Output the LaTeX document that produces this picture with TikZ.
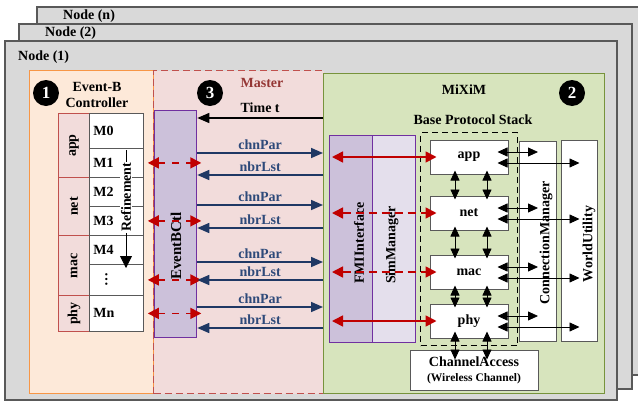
\documentclass[tikz,border=0pt]{standalone}
\usepackage{fontspec}
\setmainfont{Liberation Serif}
\usepackage{tikz}
\usetikzlibrary{ positioning, arrows.meta, calc }
\usepackage{xcolor}
\definecolor{framegray}{HTML}{D9D9D9}
\definecolor{frameline}{HTML}{595959}
\definecolor{ctrlfill}{HTML}{FDE9D9}
\definecolor{ctrlline}{HTML}{F79646}
\definecolor{masterfill}{HTML}{F2DCDB}
\definecolor{masterline}{HTML}{C0504D}
\definecolor{mastertext}{HTML}{953735}
\definecolor{miximfill}{HTML}{D7E4BD}
\definecolor{miximline}{HTML}{77933C}
\definecolor{purpleline}{HTML}{7030A0}
\definecolor{fmifill}{HTML}{CCC1DA}
\definecolor{simfill}{HTML}{E4DFEC}
\definecolor{navy}{HTML}{1F3864}
\definecolor{navytext}{HTML}{2E4A7A}
\definecolor{redarrow}{HTML}{C00000}
\newcommand{\lblfont}{\fontsize{14}{16}\selectfont\bfseries}
\newcommand{\smlfont}{\fontsize{11.5}{13}\selectfont\bfseries}

\begin{document}
\begin{tikzpicture}[
  x=1pt, y=-1pt,
  every node/.style={font=\lblfont, inner sep=0pt},
  frame/.style={draw=frameline, fill=framegray, line width=1.3pt},
  region/.style={anchor=north west, line width=1.3pt},
  badge/.style={circle, fill=black, text=white, minimum size=26pt,
                font=\fontsize{17}{17}\selectfont\bfseries},
  lyrcell/.style={draw=masterline, fill=masterfill, line width=1.2pt,
                  minimum width=31pt, anchor=north west},
  mcell/.style={draw=frameline, fill=white, line width=0.8pt, minimum width=54pt,
                text width=46pt, align=left, anchor=north west},
  purplebox/.style={draw=purpleline, line width=1.3pt, anchor=north west},
  whitebox/.style={draw=frameline, fill=white, line width=1pt, anchor=north west},
  layer/.style={draw=frameline, fill=white, line width=1pt,
                minimum width=78pt, minimum height=34pt},
  blk/.style={black, line width=0.8pt,
              {Triangle[length=10pt,width=9pt]}-{Triangle[length=10pt,width=9pt]}},
  redarr/.style={redarrow, line width=1.6pt,
                 {Triangle[length=11pt,width=11pt]}-{Triangle[length=11pt,width=11pt]}},
  chnarr/.style={navy, line width=1.6pt, -{Triangle[length=12pt,width=10pt]}},
  timearr/.style={black, line width=1.3pt, -{Triangle[length=12pt,width=10pt]}},
  refarr/.style={black, line width=0.8pt, -{Triangle[length=12pt,width=12pt]}},
]
  \useasboundingbox (0,0) rectangle (638,402);
  % stacked node frames
  \draw[frame] (37,7) rectangle (642,375);
  \node[anchor=west] (noden) at (63,16) {Node (n)};
  \draw[frame] (19,24) rectangle (632,389);
  \node[anchor=west] (node2) at (45,33) {Node (2)};
  \draw[frame] (5,41) rectangle (617,400);
  \node[anchor=west] (node1) at (18,57) {Node (1)};

  % three parts
  \node[region, draw=ctrlline, fill=ctrlfill, minimum width=124pt, minimum height=323pt] (ctrl) at (29,70) {};
  \node[region, draw=masterline, fill=masterfill, dash pattern=on 7pt off 4pt,
        minimum width=170pt, minimum height=323pt] (master) at (153,70) {};
  \node[region, draw=miximline, fill=miximfill, minimum width=281pt, minimum height=320pt] (mixim) at (323,73) {};

  \node[badge] (b1) at (46,93) {1};
  \node[badge] (b3) at (210,93) {3};
  \node[badge] (b2) at (572,93) {2};
  \node[align=center] (ctrltitle) at (97,95) {Event-B\\Controller};
  \node[text=mastertext] (mastertitle) at (262,83) {Master};
  \node (miximtitle) at (464,90) {MiXiM};
  \node (stacktitle) at (473,120) {Base Protocol Stack};

  % Event-B models
  \foreach \ltxt/\ytop/\h [count=\i] in {app/113/64, net/177/58, mac/235/60, phy/295/36} {
    \node[lyrcell, minimum height=\h pt] (l\i) at (58,\ytop) {};
    \node[rotate=90] (l\i txt) at (l\i.center) {\ltxt};
  }
  \foreach \mtxt/\ytop/\h [count=\i from 0] in {M0/113/35, M1/148/29, M2/177/29, M3/206/29,
      M4/235/29, {\hspace*{12pt}\rotatebox{90}{\dots}}/264/31, Mn/295/36}
    \node[mcell, minimum height=\h pt] (m\i) at (89,\ytop) {\mtxt};
  \coordinate (reftop) at (126,150);
  \coordinate (refbot) at (126,268);
  \draw[refarr] (reftop) -- (refbot)
    node[pos=0.4, rotate=90, fill=white, inner sep=1pt] (reftxt) {Refinement};

  % controller block
  \node[purplebox, fill=fmifill, minimum width=42pt, minimum height=227pt] (ectl) at (154,110) {};
  \node[rotate=90, font=\fontsize{15}{17}\selectfont\bfseries] (ectltxt) at (176,246) {EventBCtl};
  \foreach \r in {1,3,5,6}
    \draw[redarr, dash pattern=on 7pt off 7pt, shorten <=4pt, shorten >=-4pt]
      (m\r.east) -- (m\r.east -| ectl.east);

  % master messages
  \draw[timearr] (mixim.west |- 0,118) -- (ectl.east |- 0,118)
    node[midway, above=5pt] (timetxt) {Time t};
  \foreach \y [count=\i] in {153,205,262,307}
    \draw[chnarr] (ectl.east |- 0,\y) -- (mixim.west |- 0,\y)
      node[midway, above=3pt, text=navytext] (chn\i) {chnPar};
  \foreach \y [count=\i] in {175,228,280,328}
    \draw[chnarr] (mixim.west |- 0,\y) -- (ectl.east |- 0,\y)
      node[midway, above=3pt, text=navytext] (nbr\i) {nbrLst};

  % MiXiM side
  \node[purplebox, fill=fmifill, minimum width=43pt, minimum height=207pt] (fmi) at (329,135) {};
  \node[purplebox, fill=simfill, minimum width=43pt, minimum height=207pt] (sim) at (372,135) {};
  \node[rotate=90] (fmitxt) at (359,243) {FMIInterface};
  \node[rotate=90] (simtxt) at (392,245) {SimManager};

  \node[draw, dash pattern=on 6pt off 4pt, line width=1.3pt, anchor=north west,
        minimum width=97pt, minimum height=213pt] (stack) at (420,132) {};
  \foreach \l/\yc in {app/157, net/213, mac/272, phy/321}
    \node[layer] (\l) at (469,\yc) {\l};

  \node[whitebox, minimum width=37pt, minimum height=200pt] (cm) at (519,141) {};
  \node[rotate=90] (cmtxt) at (546,243) {ConnectionManager};
  \node[whitebox, minimum width=36pt, minimum height=201pt] (wu) at (561,140) {};
  \node[rotate=90] (wutxt) at (589,244) {WorldUtility};
  \node[whitebox, anchor=center, minimum width=128pt, minimum height=40pt, align=center] (ca)
    at (474,370) {ChannelAccess\\[-1pt]{\smlfont (Wireless Channel)}};

  % FMI to layers
  \foreach \l in {app,phy}
    \draw[redarr, shorten <=3pt, shorten >=-7pt] (fmi.west |- \l.west) -- (\l.west);
  \foreach \l in {net,mac}
    \draw[redarr, dash pattern=on 8pt off 5pt, shorten <=3pt, shorten >=-7pt]
      (fmi.west |- \l.west) -- (\l.west);

  % inside the stack
  \foreach \a/\b in {app/net, net/mac, mac/phy}
    \foreach \dx in {-14,18}
      \draw[blk, shorten <=-4pt, shorten >=-4pt] ([xshift=\dx pt]\a.south) -- ([xshift=\dx pt]\b.north);
  \foreach \dx in {-14,18}
    \draw[blk, shorten <=-7pt, shorten >=-10pt] ([xshift=\dx pt]phy.south) -- ([xshift=\dx pt]phy.south |- ca.north);
  \foreach \l in {app,net,mac,phy} {
    \draw[blk] ($(\l.east)+(-11,-5)$) -- ($(\l.east -| cm.center)+(0,-5)$);
    \draw[blk] ($(\l.east)+(-11,6)$) -- ($(\l.east -| wu.center)+(0,6)$);
  }
\end{tikzpicture}
\end{document}
